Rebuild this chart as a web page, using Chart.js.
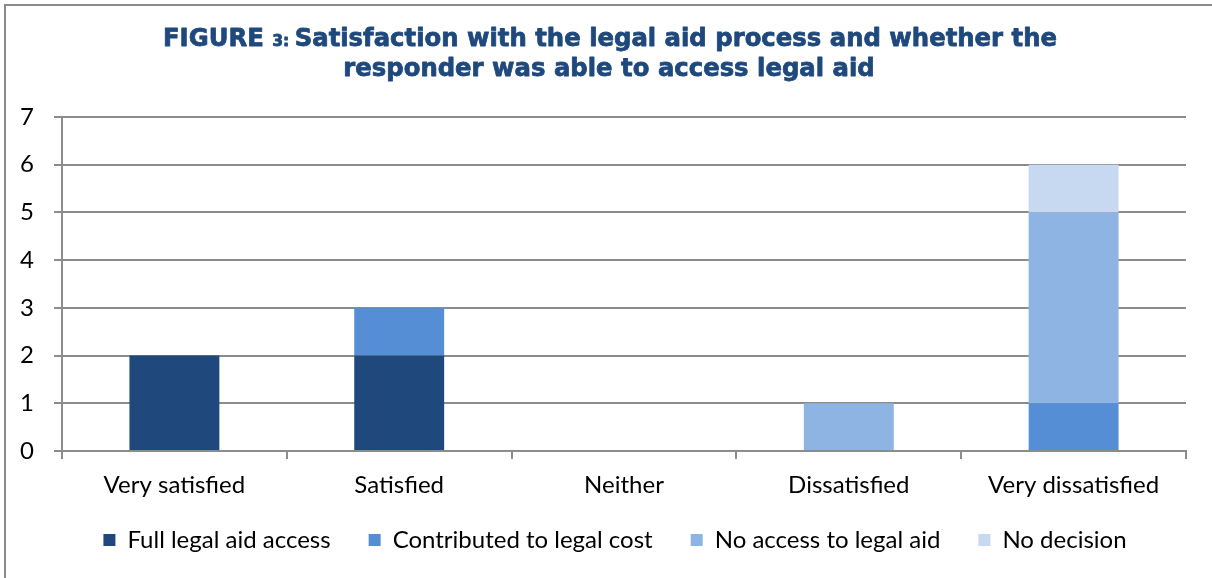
<!DOCTYPE html>
<html>
<head>
<meta charset="utf-8">
<script src="https://cdn.jsdelivr.net/npm/chart.js@4"></script>
<style>
  html, body { margin: 0; padding: 0; background: #fff; }
  #wrap { width: 1212px; height: 578px; position: relative; }
</style>
</head>
<body>
<div id="wrap"><canvas id="satisfactionChart" width="1212" height="578"></canvas></div>
<script>
const categories = ['Very satisfied', 'Satisfied', 'Neither', 'Dissatisfied', 'Very dissatisfied'];
const fullAccess = [2, 2, 0, 0, 0];
const contributed = [0, 1, 0, 0, 1];
const noAccess = [0, 0, 0, 1, 4];
const noDecision = [0, 0, 0, 0, 1];

const axisFont = { family: 'Lato, "Open Sans", sans-serif', size: 24 };
const gridColor = '#8c8c8c';

// heading with the small "3:", the grey frame, and the legend nudged into place
const chrome = {
  id: 'chrome',
  afterLayout(chart) {
    const lg = chart.legend;
    lg.left += 22;
    lg.right += 22;
    lg.top -= 8;
    lg.bottom -= 8;
  },
  beforeDraw(chart) {
    const ctx = chart.ctx;
    ctx.save();
    ctx.strokeStyle = '#8a8a8a';
    ctx.lineWidth = 2;
    ctx.beginPath();
    ctx.moveTo(5, 600);
    ctx.lineTo(5, 5);
    ctx.lineTo(1300, 5);
    ctx.stroke();
    ctx.restore();
  },
  afterDraw(chart) {
    const ctx = chart.ctx;
    ctx.save();
    ctx.fillStyle = '#1f497d';
    ctx.strokeStyle = '#1f497d';
    ctx.lineWidth = 0.8;
    ctx.lineJoin = 'round';
    ctx.textBaseline = 'alphabetic';
    const big = 'bold 25px "DejaVu Sans", sans-serif';
    const small = 'bold 16px "DejaVu Sans", sans-serif';
    const parts = [
      { t: 'FIGURE ', f: big },
      { t: '3: ', f: small },
      { t: 'Satisfaction with the legal aid process and whether the', f: big }
    ];
    let w = 0;
    parts.forEach(p => { ctx.font = p.f; w += ctx.measureText(p.t).width; });
    // the heading face is wide, so squeeze it sideways to the set width
    const sx = 894 / w;
    ctx.save();
    ctx.translate(610 - 447, 46);
    ctx.scale(sx, 1);
    let x = 0;
    parts.forEach(p => {
      ctx.font = p.f;
      ctx.fillText(p.t, x, 0);
      ctx.strokeText(p.t, x, 0);
      x += ctx.measureText(p.t).width;
    });
    ctx.restore();
    ctx.save();
    ctx.translate(609, 76);
    ctx.scale(sx, 1);
    ctx.font = big;
    ctx.textAlign = 'center';
    ctx.fillText('responder was able to access legal aid', 0, 0);
    ctx.strokeText('responder was able to access legal aid', 0, 0);
    ctx.restore();
    ctx.restore();
  }
};

new Chart(document.getElementById('satisfactionChart'), {
  type: 'bar',
  data: {
    labels: categories,
    datasets: [
      { label: 'Full legal aid access', data: fullAccess, backgroundColor: '#1f497d' },
      { label: 'Contributed to legal cost', data: contributed, backgroundColor: '#558ed5' },
      { label: 'No access to legal aid', data: noAccess, backgroundColor: '#8eb4e3' },
      { label: 'No decision', data: noDecision, backgroundColor: '#c6d9f1' }
    ]
  },
  options: {
    responsive: false,
    animation: false,
    barPercentage: 0.4,
    categoryPercentage: 1,
    layout: { padding: { top: 117, right: 26, left: 0, bottom: 8 } },
    plugins: {
      title: { display: false },
      tooltip: { enabled: false },
      legend: {
        position: 'bottom',
        labels: {
          color: '#000',
          font: axisFont,
          boxWidth: 12,
          boxHeight: 12,
          padding: 38
        }
      }
    },
    scales: {
      x: {
        stacked: true,
        afterFit(scale) { scale.height = 47; },
        grid: { drawOnChartArea: false, color: gridColor, lineWidth: 2, tickLength: 8, offset: true },
        border: { color: gridColor, width: 2 },
        ticks: { color: '#000', font: axisFont, padding: 12, maxRotation: 0 }
      },
      y: {
        stacked: true,
        min: 0,
        max: 7,
        afterFit(scale) { scale.width = 62; },
        grid: { color: gridColor, lineWidth: 2, tickLength: 8 },
        border: { color: gridColor, width: 2 },
        ticks: { color: '#000', font: axisFont, stepSize: 1, padding: 20 }
      }
    }
  },
  plugins: [chrome]
});
</script>
</body>
</html>
